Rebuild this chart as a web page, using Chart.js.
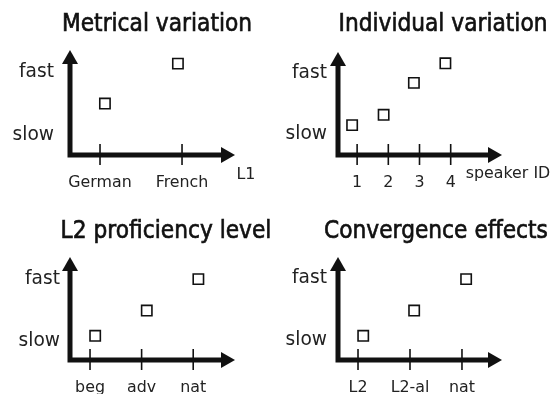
<!DOCTYPE html>
<html><head><meta charset="utf-8">
<script src="https://cdn.jsdelivr.net/npm/chart.js@4"></script>
<style>
html,body{margin:0;padding:0;background:#fff;}
#wrap{position:relative;width:558px;height:394px;overflow:hidden;background:#fff;}
#wrap canvas{position:absolute;left:0;top:0;}
</style></head><body><div id="wrap">
<canvas id="c0" width="558" height="394"></canvas>
<canvas id="c1" width="558" height="394"></canvas>
<canvas id="c2" width="558" height="394"></canvas>
<canvas id="c3" width="558" height="394"></canvas>
</div>
<script>
// ---- data ----
const titles = ["Metrical variation", "Individual variation", "L2 proficiency level", "Convergence effects"];
const yTickLabels = ["slow", "fast"];
const axisNames = ["L1", "speaker ID", "", ""];

const categories1 = ["German", "French"];
const xPos1 = [0.06, 0.95];
const speed1 = [4.9, 8.7];
const yTicks1 = [1.9, 7.9];

const categories2 = ["1", "2", "3", "4"];
const xPos2 = [-0.16, 0.85, 1.82, 2.83];
const speed2 = [2.9, 3.9, 7.0, 8.9];
const yTicks2 = [2.1, 8.0];

const categories3 = ["beg", "adv", "nat"];
const xPos3 = [0.1, 1.1, 2.1];
const speed3 = [2.35, 4.8, 7.85];
const yTicks3 = [1.9, 7.9];

const categories4 = ["L2", "L2-al", "nat"];
const xPos4 = [0.1, 1.08, 2.08];
const speed4 = [2.35, 4.8, 7.85];
const yTicks4 = [2.0, 8.0];

// ---- layout (page pixels) ----
const W = 558, H = 394;
const FONT = "'DejaVu Sans', Verdana, sans-serif";

const panels = [
  {title: titles[0], cats: categories1, xs: xPos1, ys: speed1, yt: yTicks1, name: axisNames[0],
   ox: 70, oy: 155, tx: 235, ty: 50, xmin: -0.366, xmax: 1.646, titleX: 157, titleY: 24, ylabR: 54, catY: 183, nameX: 246, nameY: 175},
  {title: titles[1], cats: categories2, xs: xPos2, ys: speed2, yt: yTicks2, name: axisNames[1],
   ox: 338, oy: 155, tx: 502, ty: 52, xmin: -0.613, xmax: 4.645, titleX: 443, titleY: 24, ylabR: 327, catY: 183, nameX: 508, nameY: 174},
  {title: titles[2], cats: categories3, xs: xPos3, ys: speed3, yt: yTicks3, name: axisNames[2],
   ox: 70, oy: 360, tx: 235, ty: 257, xmin: -0.388, xmax: 2.81, titleX: 166, titleY: 231, ylabR: 60, catY: 388, nameX: 0, nameY: 0},
  {title: titles[3], cats: categories4, xs: xPos4, ys: speed4, yt: yTicks4, name: axisNames[3],
   ox: 338, oy: 360, tx: 502, ty: 257, xmin: -0.385, xmax: 2.77, titleX: 436, titleY: 231, ylabR: 327, catY: 388, nameX: 0, nameY: 0}
];

function condText(ctx, str, x, y, font, align, cond, strokeW) {
  ctx.font = font;
  ctx.textAlign = align;
  ctx.textBaseline = 'middle';
  const w = ctx.measureText(str).width * cond;
  ctx.fillText(str, x, y, w);
  if (strokeW) {
    ctx.lineWidth = strokeW;
    ctx.strokeText(str, x, y, w);
  }
}

const schematic = {
  id: 'schematic',
  beforeDatasetsDraw(chart, args, opts) {
    const p = opts.panel;
    const ctx = chart.ctx;
    const xs = chart.scales.x, ys = chart.scales.y;
    const ox = xs.getPixelForValue(xs.min), oy = ys.getPixelForValue(ys.min);
    const tx = xs.getPixelForValue(xs.max), ty = ys.getPixelForValue(ys.max);
    ctx.save();
    ctx.fillStyle = '#111';
    ctx.strokeStyle = '#111';
    // ticks on x axis
    ctx.lineWidth = 1.6;
    p.cats.forEach((c, i) => {
      const x = xs.getPixelForValue(i);
      ctx.beginPath();
      ctx.moveTo(x, oy - 11);
      ctx.lineTo(x, oy + 10);
      ctx.stroke();
    });
    // axes
    const aL = 12, aW = 8;
    ctx.lineWidth = 5;
    ctx.lineJoin = 'miter';
    ctx.lineCap = 'butt';
    ctx.beginPath();
    ctx.moveTo(ox, ty + aL - 1);
    ctx.lineTo(ox, oy);
    ctx.lineTo(tx - aL + 1, oy);
    ctx.stroke();
    // arrow heads
    ctx.beginPath();
    ctx.moveTo(ox, ty);
    ctx.lineTo(ox - aW, ty + aL + 2);
    ctx.lineTo(ox + aW, ty + aL + 2);
    ctx.closePath();
    ctx.fill();
    ctx.beginPath();
    ctx.moveTo(tx, oy);
    ctx.lineTo(tx - aL - 2, oy - aW);
    ctx.lineTo(tx - aL - 2, oy + aW);
    ctx.closePath();
    ctx.fill();
    // category labels
    ctx.fillStyle = '#222';
    p.cats.forEach((c, i) => {
      condText(ctx, c, xs.getPixelForValue(i), p.catY, `16.5px ${FONT}`, 'center', 0.96);
    });
    // y labels
    p.yt.forEach((v, i) => {
      condText(ctx, yTickLabels[i], p.ylabR, ys.getPixelForValue(v), `20px ${FONT}`, 'right', 0.93);
    });
    // axis name
    if (p.name) condText(ctx, p.name, p.nameX, p.nameY, `16.5px ${FONT}`, 'center', 0.96);
    // title
    ctx.fillStyle = '#111';
    ctx.strokeStyle = '#111';
    condText(ctx, p.title, p.titleX, p.titleY, `25px ${FONT}`, 'center', 0.87, 0.7);
    ctx.restore();
  }
};

panels.forEach((p, k) => {
  new Chart(document.getElementById('c' + k), {
    type: 'scatter',
    data: {
      datasets: [{
        data: p.xs.map((x, i) => ({x: x, y: p.ys[i]})),
        pointStyle: 'rect',
        radius: 7.3,
        backgroundColor: '#fff',
        borderColor: '#111',
        borderWidth: 1.6
      }]
    },
    options: {
      responsive: false,
      animation: false,
      events: [],
      layout: {padding: {left: p.ox, right: W - p.tx, top: p.ty, bottom: H - p.oy}},
      scales: {
        x: {type: 'linear', min: p.xmin, max: p.xmax, display: false},
        y: {type: 'linear', min: 0, max: 10, display: false}
      },
      plugins: {
        legend: {display: false},
        tooltip: {enabled: false},
        title: {display: false},
        schematic: {panel: p}
      }
    },
    plugins: [schematic]
  });
});
</script>
</body></html>
